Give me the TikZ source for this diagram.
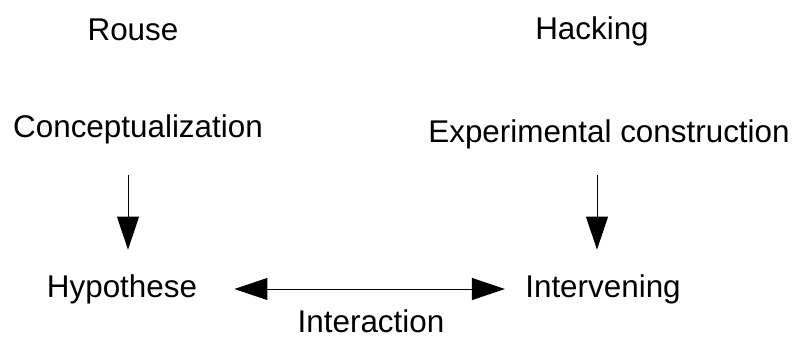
\documentclass[tikz,border=0pt]{standalone}
\usepackage{fontspec}
\setmainfont{Liberation Sans}
\usepackage{tikz}
\usetikzlibrary{arrows.meta}
\tikzset{
  lbl/.style={anchor=base,inner sep=0pt,text height=11.5pt,text depth=3.5pt,
    font=\fontsize{15.7pt}{18pt}\selectfont},
  flow/.style={line width=0.5pt,-{Triangle[length=16.5pt,width=11pt]}},
  both/.style={flow,{Triangle[length=16.5pt,width=11pt]}-{Triangle[length=16.5pt,width=11pt]}}}

\begin{document}
\begin{tikzpicture}[x=0.5pt,y=-0.5pt]
  \useasboundingbox (0,0) rectangle (796,338);
  % two authors
  \node[lbl] (rouse) at (133,40) {Rouse};
  \node[lbl] (hacking) at (592,39) {Hacking};
  % upper row
  \node[lbl] (concept) at (138,137) {Conceptualization};
  \node[lbl] (exper) at (609,142) {Experimental construction};
  % lower row
  \node[lbl] (hypo) at (122,297) {Hypothese};
  \node[lbl] (interv) at (603,297) {Intervening};
  \node[lbl,text depth=0pt] (interact) at (371,332) {Interaction};
  \draw[flow] ([xshift=-5pt,yshift=-15.5pt]concept.south) -- ([xshift=3pt,yshift=12pt]hypo.north);
  \draw[flow] ([xshift=-6pt,yshift=-13pt]exper.south) -- ([xshift=-3pt,yshift=12pt]interv.north);
  \draw[both] ([xshift=18.5pt]hypo.east) -- ([xshift=-10pt]interv.west);
\end{tikzpicture}
\end{document}
